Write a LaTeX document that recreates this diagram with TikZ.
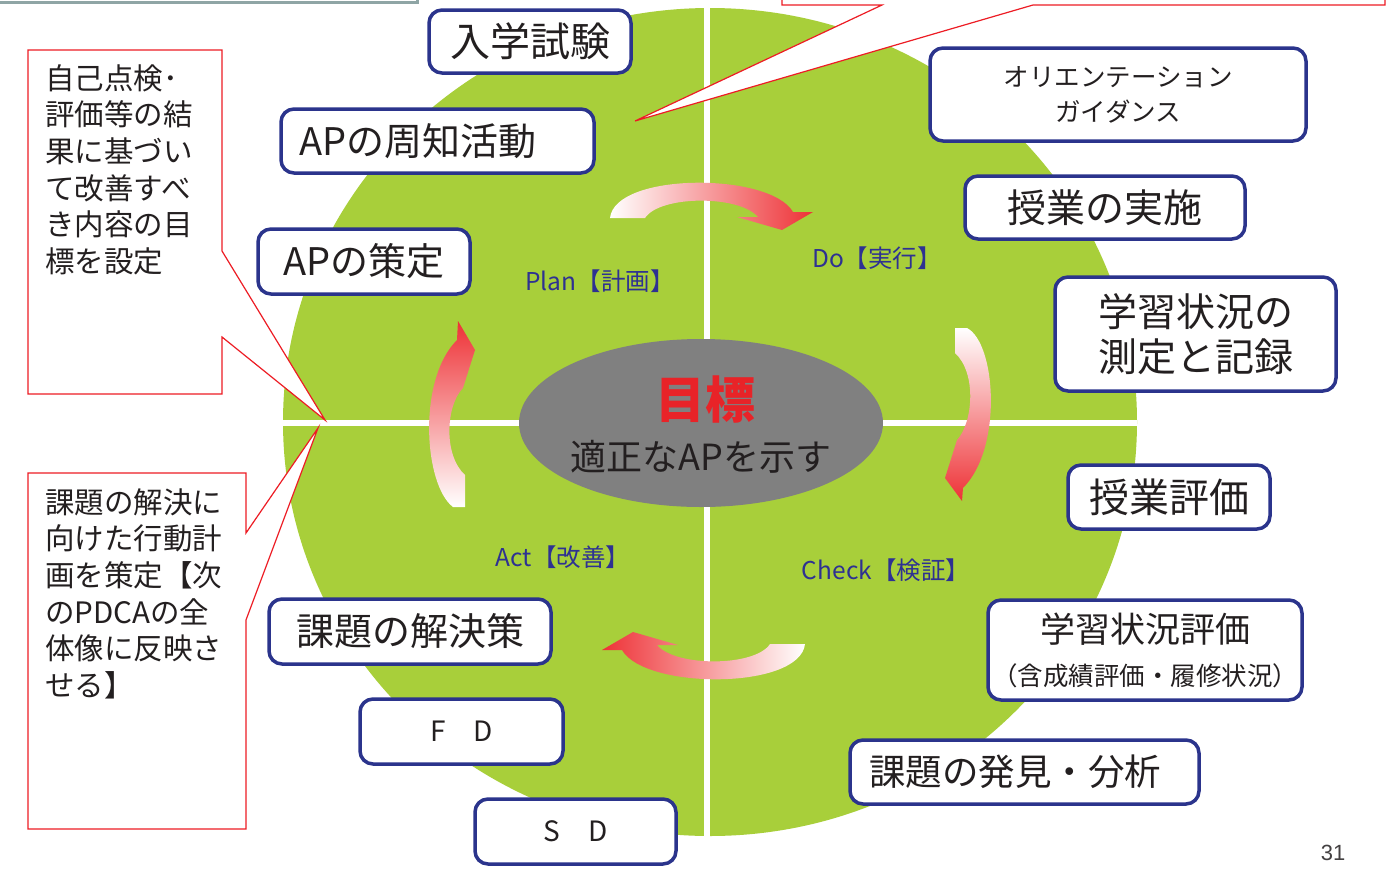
\documentclass[tikz,border=0pt]{standalone}
\usepackage{fontspec}
\usetikzlibrary{shapes.geometric}
\setmainfont{Noto Sans CJK JP}
\newfontfamily\arialf{Liberation Sans}
\definecolor{grn}{RGB}{168,207,58}
\definecolor{navy}{RGB}{43,52,140}
\definecolor{lblue}{RGB}{46,49,146}
\definecolor{calred}{RGB}{237,28,36}
\definecolor{arred}{RGB}{238,50,54}
\definecolor{txt}{RGB}{35,31,32}
\definecolor{greyb}{RGB}{143,165,165}
\definecolor{ovalgrey}{RGB}{128,128,128}
\definecolor{goalred}{RGB}{232,35,40}
\begin{document}
\begin{tikzpicture}[x=1pt,y=-1pt,
  box/.style={draw=navy, line width=3.5pt, rounded corners=13pt, fill=white, text=txt, inner sep=0pt, align=center},
  callout/.style={draw=calred, line width=1.2pt, fill=white},
  lbl/.style={text=lblue, inner sep=0pt, font=\fontsize{24.5}{30}\selectfont},
  ctext/.style={text=txt, inner sep=0pt, align=left, anchor=north west, font=\fontsize{29.5}{36.7}\selectfont},
  cross/.style={draw=white, line width=6.5pt}
]
\useasboundingbox (0,0) rectangle (1395,868);
\fill[white] (0,0) rectangle (1395,868);

% partial grey box at top left
\draw[greyb, line width=3pt, fill=white] (-10,-20) rectangle (417,2.5);

% green disc and white cross
\fill[grn] (710,422) ellipse [x radius=427, y radius=414];
\draw[cross] (707,8) -- (707,837);
\draw[cross] (283,423) -- (1137,423);

% central oval
\node[ellipse, fill=ovalgrey, minimum width=364, minimum height=168, inner sep=0pt] (goal) at (701,423) {};
\node[text=goalred, inner sep=0pt, font=\bfseries\fontsize{50}{56}\selectfont] (goalt) at (705,400) {目標};
\node[text=txt, inner sep=0pt, font=\fontsize{36}{40}\selectfont] (goals) at (701,457) {適正なAPを示す};

% phase labels
\node[lbl] (plan) at (600,281) {Plan【計画】};
\node[lbl] (do) at (877,258) {Do【実行】};
\node[lbl] (act) at (563,557) {Act【改善】};
\node[lbl] (check) at (886,570) {Check【検証】};

% curved arrows
\path[left color=white, right color=arred]
  (610,218) .. controls (615,172) and (770,172) .. (793,212)
  -- (813,212) -- (782,230) -- (737,217) -- (758,217)
  .. controls (740,195) and (660,195) .. (645,218) -- cycle;
\path[top color=white, bottom color=arred]
  (955,328) -- (967,328) .. controls (996,343) and (1003,448) .. (963,488)
  -- (962,501) -- (945,478) -- (957,440)
  .. controls (973,423) and (977,373) .. (955,353) -- cycle;
\path[left color=arred, right color=white]
  (805,644) .. controls (800,690) and (645,690) .. (622,650)
  -- (602,650) -- (633,632) -- (678,645) -- (657,645)
  .. controls (675,667) and (755,667) .. (770,644) -- cycle;
\path[top color=arred, bottom color=white]
  (453,507) .. controls (424,485) and (417,380) .. (457,340)
  -- (458,321) -- (475,350) -- (463,388)
  .. controls (446,405) and (443,455) .. (465,475) -- (465,507) -- cycle;

% boxes
\node[box, minimum width=202, minimum height=63, font=\fontsize{40}{46}\selectfont] (nyushi) at (530,41.5) {入学試験};
\node[box, minimum width=313, minimum height=64, text width=277, align=left, font=\fontsize{38}{44}\selectfont] (shuchi) at (437.5,141) {APの周知活動};
\node[box, minimum width=212, minimum height=65, font=\fontsize{38}{44}\selectfont] (sakutei) at (364,261.5) {APの策定};
\node[box, minimum width=376, minimum height=93, font=\fontsize{25.5}{35}\selectfont] (orient) at (1118,94.5) {オリエンテーション\\ガイダンス};
\node[box, minimum width=280, minimum height=63, font=\fontsize{39}{45}\selectfont] (jisshi) at (1105,207.5) {授業の実施};
\node[box, minimum width=281, minimum height=114, font=\fontsize{39}{45}\selectfont] (sokutei) at (1195.5,334) {学習状況の\\測定と記録};
\node[box, minimum width=202, minimum height=64, font=\fontsize{40}{46}\selectfont] (jugyo) at (1169,497) {授業評価};
\node[box, minimum width=314, minimum height=100, font=\fontsize{35}{43}\selectfont] (gakushu) at (1145,650) {学習状況評価\\{\fontsize{25.5}{28}\selectfont （含成績評価・履修状況）}};
\node[box, minimum width=349, minimum height=64, text width=311, align=left, font=\fontsize{36.5}{42}\selectfont] (hakken) at (1024.5,772) {課題の発見・分析};
\node[box, minimum width=282, minimum height=65, font=\fontsize{38}{44}\selectfont] (kaiketsu) at (410,631.5) {課題の解決策};
\node[box, minimum width=203, minimum height=65, font=\fontsize{28}{32}\selectfont] (fd) at (461.5,731.5) {F　D};
\node[box, minimum width=201, minimum height=65, font=\fontsize{28}{32}\selectfont] (sd) at (575.5,831.5) {S　D};

% callouts
\draw[callout] (782,-10) -- (782,5) -- (882,5) -- (635,121) -- (1033,5) -- (1385,5) -- (1385,-10) -- cycle;
\draw[callout] (28,50) -- (222,50) -- (222,251) -- (325,420) -- (222,337) -- (222,394) -- (28,394) -- cycle;
\draw[callout] (28,473) -- (246,473) -- (246,533) -- (318,428) -- (246,620) -- (246,829) -- (28,829) -- cycle;
\node[ctext] (c1) at (45,64) {自己点検･\\評価等の結\\果に基づい\\て改善すべ\\き内容の目\\標を設定};
\node[ctext] (c2) at (45,488) {課題の解決に\\向けた行動計\\画を策定【次\\のPDCAの全\\体像に反映さ\\せる】};

% page number
\node[text=txt!85, inner sep=0pt, font=\arialf\fontsize{22}{26}\selectfont] (pnum) at (1333,853) {31};
\end{tikzpicture}
\end{document}
